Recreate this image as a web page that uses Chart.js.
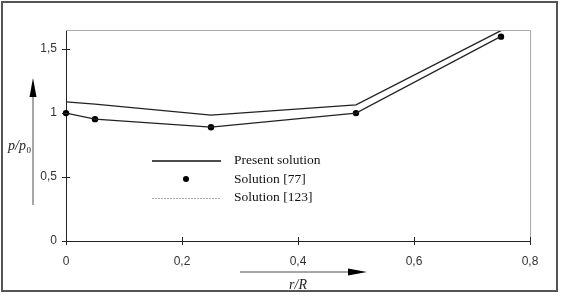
<!DOCTYPE html>
<html>
<head>
<meta charset="utf-8">
<script src="https://cdn.jsdelivr.net/npm/chart.js@4/dist/chart.umd.min.js"></script>
<style>
  html, body { margin: 0; padding: 0; background: #fff; }
  #wrap { width: 562px; height: 295px; position: relative; }
</style>
</head>
<body>
<div id="wrap"><canvas id="c" width="562" height="295"></canvas></div>
<script>
// values
const X_PRESENT = [0, 0.05, 0.25, 0.5, 0.75];
const Y_PRESENT = [1.088, 1.07, 0.985, 1.065, 1.645];
const X_77 = [0, 0.05, 0.25, 0.5, 0.75];
const Y_77 = [1.0, 0.953, 0.89, 1.0, 1.598];
const X_123 = [0, 0.05, 0.25, 0.5, 0.75];
const Y_123 = [1.0, 0.953, 0.89, 1.0, 1.6];
const X_TICKS = [0, 0.2, 0.4, 0.6, 0.8];
const Y_TICKS = [0, 0.5, 1, 1.5];
const LEGEND_LABELS = ['Present solution', 'Solution [77]', 'Solution [123]'];

const pts = (xs, ys) => xs.map((x, i) => ({ x: x, y: ys[i] }));
const fmt = v => String(v).replace('.', ',');
const SANS = 'Arial, "Liberation Sans", Helvetica, sans-serif';
const SERIF = '"Liberation Serif", "Times New Roman", serif';

// frame, crossing ticks, arrows, axis titles and the in-plot legend
const decor = {
  id: 'decor',
  beforeDraw(chart) {
    const ctx = chart.ctx;
    ctx.save();
    ctx.fillStyle = '#fff';
    ctx.fillRect(0, 0, chart.width, chart.height);
    ctx.restore();
  },
  afterDraw(chart) {
    const ctx = chart.ctx;
    const a = chart.chartArea;
    const xs = chart.scales.x, ys = chart.scales.y;
    ctx.save();

    // outer frame
    ctx.strokeStyle = '#555';
    ctx.lineWidth = 2;
    ctx.strokeRect(2, 2, 555, 289);

    // top / right of plot box
    ctx.strokeStyle = '#aaa';
    ctx.lineWidth = 1;
    ctx.beginPath();
    ctx.moveTo(a.left, a.top + 0.5);
    ctx.lineTo(a.right + 0.5, a.top + 0.5);
    ctx.lineTo(a.right + 0.5, a.bottom);
    ctx.stroke();

    // ticks crossing the axes
    ctx.strokeStyle = '#222';
    ctx.beginPath();
    X_TICKS.forEach(v => {
      const px = Math.round(xs.getPixelForValue(v)) + 0.5;
      ctx.moveTo(px, a.bottom - 4);
      ctx.lineTo(px, a.bottom + 4);
    });
    Y_TICKS.forEach(v => {
      const py = Math.round(ys.getPixelForValue(v)) + 0.5;
      ctx.moveTo(a.left - 4, py);
      ctx.lineTo(a.left + 4, py);
    });
    ctx.stroke();

    // y arrow
    ctx.strokeStyle = '#888';
    ctx.lineWidth = 1.5;
    ctx.beginPath();
    ctx.moveTo(33, 205);
    ctx.lineTo(33, 92);
    ctx.stroke();
    ctx.fillStyle = '#000';
    ctx.beginPath();
    ctx.moveTo(33, 78);
    ctx.lineTo(29.5, 97);
    ctx.lineTo(36.5, 97);
    ctx.closePath();
    ctx.fill();

    // x arrow
    ctx.beginPath();
    ctx.moveTo(240, 272);
    ctx.lineTo(352, 272);
    ctx.stroke();
    ctx.beginPath();
    ctx.moveTo(367, 272);
    ctx.lineTo(348, 268.5);
    ctx.lineTo(348, 275.5);
    ctx.closePath();
    ctx.fill();

    // axis titles
    ctx.fillStyle = '#222';
    ctx.textBaseline = 'alphabetic';
    ctx.font = 'italic 14px ' + SERIF;
    ctx.textAlign = 'left';
    ctx.fillText('p/p', 8, 150);
    const w = ctx.measureText('p/p').width;
    ctx.font = '9px ' + SERIF;
    ctx.fillText('0', 8 + w + 0.5, 153);
    ctx.font = 'italic 14px ' + SERIF;
    ctx.textAlign = 'center';
    ctx.fillText('r/R', 298, 289);

    // legend
    ctx.strokeStyle = '#111';
    ctx.lineWidth = 1.5;
    ctx.beginPath();
    ctx.moveTo(152, 161);
    ctx.lineTo(221, 161);
    ctx.stroke();
    ctx.fillStyle = '#000';
    ctx.beginPath();
    ctx.arc(186, 179, 3, 0, Math.PI * 2);
    ctx.fill();
    ctx.strokeStyle = '#aaa';
    ctx.lineWidth = 1;
    ctx.setLineDash([2, 1]);
    ctx.beginPath();
    ctx.moveTo(152, 198.5);
    ctx.lineTo(221, 198.5);
    ctx.stroke();
    ctx.setLineDash([]);
    ctx.fillStyle = '#111';
    ctx.font = '13.5px ' + SERIF;
    ctx.textAlign = 'left';
    ctx.textBaseline = 'middle';
    ctx.fillText(LEGEND_LABELS[0], 234, 160);
    ctx.fillText(LEGEND_LABELS[1], 234, 179);
    ctx.fillText(LEGEND_LABELS[2], 234, 197);
    ctx.restore();
  }
};

new Chart(document.getElementById('c'), {
  type: 'scatter',
  data: {
    datasets: [
      {
        label: LEGEND_LABELS[0],
        data: pts(X_PRESENT, Y_PRESENT),
        showLine: true,
        borderColor: '#222',
        borderWidth: 1.3,
        pointRadius: 0,
        tension: 0
      },
      {
        label: LEGEND_LABELS[2],
        data: pts(X_123, Y_123),
        showLine: true,
        borderColor: '#222',
        borderWidth: 1.2,
        pointRadius: 0,
        tension: 0
      },
      {
        label: LEGEND_LABELS[1],
        data: pts(X_77, Y_77),
        showLine: false,
        backgroundColor: '#000',
        borderColor: '#000',
        pointRadius: 3.2,
        pointBorderWidth: 0,
        clip: false
      }
    ]
  },
  options: {
    responsive: false,
    animation: false,
    events: [],
    layout: { padding: { left: 0, right: 32, top: 30, bottom: 0 } },
    plugins: {
      legend: { display: false },
      tooltip: { enabled: false }
    },
    scales: {
      x: {
        type: 'linear',
        min: 0,
        max: 0.8,
        afterFit: s => { s.height = 54; },
        afterBuildTicks: s => { s.ticks = X_TICKS.map(v => ({ value: v })); },
        grid: { display: false, drawTicks: false },
        border: { display: true, color: '#222', width: 1 },
        ticks: {
          padding: 13,
          color: '#333',
          font: { family: SANS, size: 12 },
          callback: v => fmt(v),
          maxRotation: 0
        }
      },
      y: {
        min: 0,
        max: 1.65,
        afterFit: s => { s.width = 66; },
        afterBuildTicks: s => { s.ticks = Y_TICKS.map(v => ({ value: v })); },
        grid: { display: false, drawTicks: false },
        border: { display: true, color: '#222', width: 1 },
        ticks: {
          padding: 9,
          color: '#333',
          font: { family: SANS, size: 12 },
          callback: v => fmt(v)
        }
      }
    }
  },
  plugins: [decor]
});
</script>
</body>
</html>
